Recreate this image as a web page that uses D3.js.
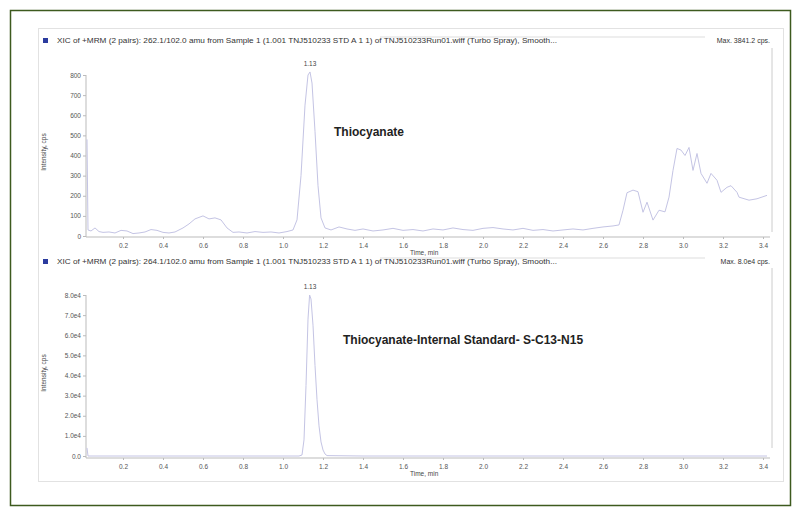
<!DOCTYPE html>
<html>
<head>
<meta charset="utf-8">
<script src="https://cdn.jsdelivr.net/npm/d3@7"></script>
<style>
  body { margin: 0; background: #fff; }
  svg { display: block; font-family: "Liberation Sans", Arial, sans-serif; }
  .axis path, .axis line { stroke: #bbb; }
  .axis text { fill: #555; font-size: 6.5px; }
</style>
</head>
<body>
<svg id="chart" width="801" height="516"></svg>
<script>
// x ticks shared by both panels
var xTicks = [0.2, 0.4, 0.6, 0.8, 1.0, 1.2, 1.4, 1.6, 1.8, 2.0, 2.2, 2.4, 2.6, 2.8, 3.0, 3.2, 3.4];

// top panel: 262.1/102.0 thiocyanate trace
var topTime = [0.02, 0.025, 0.04, 0.06, 0.08, 0.10, 0.13, 0.16, 0.19, 0.22, 0.25, 0.28, 0.31, 0.34, 0.37, 0.40, 0.43, 0.46,
  0.50, 0.53, 0.56, 0.60, 0.63, 0.66, 0.69, 0.72, 0.75, 0.78, 0.82, 0.86, 0.90, 0.94, 0.98, 1.02, 1.05,
  1.07, 1.09, 1.11, 1.125, 1.135, 1.145, 1.16, 1.175, 1.19, 1.21, 1.24, 1.28, 1.32, 1.36, 1.40, 1.45,
  1.50, 1.55, 1.60, 1.65, 1.70, 1.75, 1.80, 1.85, 1.90, 1.95, 2.00, 2.05, 2.10, 2.15, 2.20, 2.25, 2.30,
  2.35, 2.40, 2.45, 2.50, 2.55, 2.60, 2.65, 2.68, 2.70, 2.72, 2.75, 2.775, 2.80, 2.82, 2.85, 2.88, 2.91,
  2.93, 2.95, 2.97, 2.99, 3.01, 3.03, 3.05, 3.07, 3.09, 3.12, 3.14, 3.17, 3.19, 3.22, 3.24, 3.27, 3.28,
  3.33, 3.37, 3.42];
var topIntensity = [480, 30, 25, 40, 22, 18, 20, 15, 28, 25, 12, 15, 20, 32, 28, 18, 15, 20,
  40, 60, 85, 100, 85, 90, 80, 40, 18, 20, 15, 22, 18, 20, 15, 22, 30,
  80, 300, 650, 800, 815, 760, 520, 250, 90, 40, 30, 45, 35, 28, 35, 25,
  30, 38, 28, 32, 25, 35, 30, 40, 32, 28, 38, 42, 35, 30, 38, 28, 32,
  25, 30, 35, 30, 38, 45, 50, 55, 128, 215, 228, 220, 118, 168, 79, 128, 120,
  193, 326, 435, 427, 400, 440, 326, 410, 311, 262, 311, 277, 217, 242, 250, 217, 193,
  178, 185, 202];
var topYTicks = [0, 100, 200, 300, 400, 500, 600, 700, 800];

// bottom panel: 264.1/102.0 internal standard trace
var bottomTime = [0.02, 0.025, 0.2, 0.4, 0.6, 0.8, 1.0, 1.08, 1.095, 1.105, 1.115, 1.125, 1.133, 1.14, 1.15,
  1.16, 1.17, 1.18, 1.19, 1.20, 1.21, 1.22, 1.4, 1.6, 2.0, 2.4, 2.8, 3.2, 3.42];
var bottomIntensity = [4000, 0, 0, 0, 0, 0, 0, 0, 500, 8000, 35000, 68000, 80000, 78000, 65000,
  45000, 28000, 15000, 7000, 3000, 1000, 200, 0, 0, 0, 0, 0, 0, 0];
var bottomYTicks = [0, 10000, 20000, 30000, 40000, 50000, 60000, 70000, 80000];
var bottomYLabels = ["0.0", "1.0e4", "2.0e4", "3.0e4", "4.0e4", "5.0e4", "6.0e4", "7.0e4", "8.0e4"];

var svg = d3.select("#chart");

// outer green frame and grey panel
svg.append("rect").attr("x", 10.5).attr("y", 10.5).attr("width", 780).attr("height", 495)
  .attr("fill", "none").attr("stroke", "#3d5a1e").attr("stroke-width", 1.5);
svg.append("rect").attr("x", 38.5).attr("y", 28.5).attr("width", 745).attr("height", 453)
  .attr("fill", "none").attr("stroke", "#e2e2e2");

var x = d3.scaleLinear().domain([0, 3.45]).range([83, 773]);

function panel(o) {
  var y = d3.scaleLinear().domain(o.domain).range(o.range);
  var g = svg.append("g");

  // header
  g.append("rect").attr("x", 43).attr("y", o.head - 5).attr("width", 5).attr("height", 5).attr("fill", "#2b3b9e");
  g.append("text").attr("x", 57).attr("y", o.head).attr("font-size", 7).attr("fill", "#333")
    .attr("textLength", 500).attr("lengthAdjust", "spacingAndGlyphs").text(o.title);
  g.append("text").attr("x", 770).attr("y", o.head).attr("font-size", 7).attr("fill", "#333")
    .attr("text-anchor", "end").text(o.max);
  g.append("line").attr("x1", 380).attr("x2", 705).attr("y1", o.head - 6).attr("y2", o.head - 6)
    .attr("stroke", "#ddd");

  // right frame of plot
  g.append("line").attr("x1", 772).attr("x2", 772).attr("y1", o.frame[0]).attr("y2", o.frame[1])
    .attr("stroke", "#ccc");

  // axes
  g.append("g").attr("class", "axis").attr("transform", "translate(0," + o.axisY + ")")
    .call(d3.axisBottom(x).tickValues(xTicks).tickFormat(d3.format(".1f")).tickSize(2).tickPadding(4))
    .call(function (a) { a.select(".domain").attr("d", "M86,0H770"); });
  g.append("g").attr("class", "axis").attr("transform", "translate(86,0)")
    .call(d3.axisLeft(y).tickValues(o.yTicks).tickFormat(function (d, i) { return o.yLabels[i]; })
      .tickSize(3).tickPadding(2))
    .call(function (a) { a.select(".domain").attr("d", "M0," + o.range[1] + "V" + o.axisY); });

  // axis titles
  g.append("text").attr("transform", "translate(46," + o.yLabelY + ") rotate(-90)")
    .attr("text-anchor", "middle").attr("font-size", 6.5).attr("fill", "#444").text("Intensity, cps");
  g.append("text").attr("x", 410).attr("y", o.axisY + 18).attr("font-size", 6.5).attr("fill", "#444")
    .text("Time, min");

  // trace
  var pts = o.t.map(function (d, i) { return [d, o.v[i]]; });
  g.append("path").datum(pts)
    .attr("d", d3.line().x(function (d) { return x(d[0]); }).y(function (d) { return y(d[1]); }))
    .attr("fill", "none").attr("stroke", "#c4c4e4").attr("stroke-width", 1);

  // peak label and annotation
  g.append("text").attr("x", x(1.135)).attr("y", y(o.peak) - 6).attr("text-anchor", "middle")
    .attr("font-size", 6.5).attr("fill", "#444").text("1.13");
  g.append("text").attr("x", o.note[0]).attr("y", o.note[1]).attr("font-size", 12)
    .attr("font-weight", "bold").attr("fill", "#222").text(o.noteText);
}

panel({
  head: 43,
  title: "XIC of +MRM (2 pairs): 262.1/102.0 amu from Sample 1 (1.001 TNJ510233 STD A 1 1) of TNJ510233Run01.wiff (Turbo Spray), Smooth...",
  max: "Max. 3841.2 cps.",
  domain: [0, 800], range: [236, 75], axisY: 237,
  frame: [48, 232],
  yTicks: topYTicks, yLabels: topYTicks.map(String),
  yLabelY: 152,
  t: topTime, v: topIntensity, peak: 815,
  note: [334, 136], noteText: "Thiocyanate"
});

panel({
  head: 264,
  title: "XIC of +MRM (2 pairs): 264.1/102.0 amu from Sample 1 (1.001 TNJ510233 STD A 1 1) of TNJ510233Run01.wiff (Turbo Spray), Smooth...",
  max: "Max. 8.0e4 cps.",
  domain: [0, 80000], range: [456, 295], axisY: 458,
  frame: [268, 448],
  yTicks: bottomYTicks, yLabels: bottomYLabels,
  yLabelY: 373,
  t: bottomTime, v: bottomIntensity, peak: 80000,
  note: [343, 344], noteText: "Thiocyanate-Internal Standard- S-C13-N15"
});
</script>
</body>
</html>
